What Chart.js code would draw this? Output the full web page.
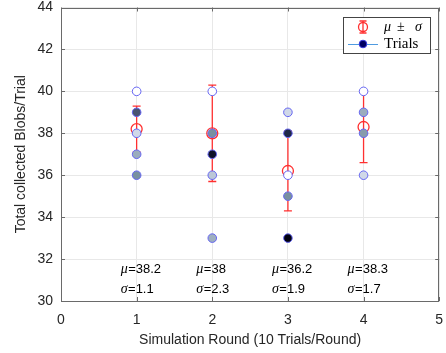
<!DOCTYPE html>
<html><head><meta charset="utf-8">
<script src="https://cdn.jsdelivr.net/npm/chart.js@4"></script>
<style>html,body{margin:0;padding:0;background:#fff;}#wrap{width:446px;height:353px;}</style>
</head><body><div id="wrap"><canvas id="c" width="446" height="353"></canvas></div>
<script>
// ---- data ----
const rounds = [1, 2, 3, 4];
const means = [38.2, 38, 36.2, 38.3];
const sds = [1.1, 2.3, 1.9, 1.7];
const round1Values = [40, 39, 38, 37, 36];
const round2Values = [40, 38, 37, 36, 33];
const round3Values = [39, 38, 36, 35, 33];
const round4Values = [40, 39, 38, 36];
// darkness of each drawn trial marker (0 = white, 1 = darkest)
const round1Shades = [0.0, 0.66, 0.15, 0.33, 0.45];
const round2Shades = [0.0, 0.45, 0.93, 0.22, 0.32];
const round3Shades = [0.15, 0.85, 0.0, 0.45, 1.0];
const round4Shades = [0.0, 0.33, 0.4, 0.15];
const xTicks = [0, 1, 2, 3, 4, 5];
const yTicks = [30, 32, 34, 36, 38, 40, 42, 44];

const roundValues = [round1Values, round2Values, round3Values, round4Values];
const roundShades = [round1Shades, round2Shades, round3Shades, round4Shades];

const stops = [[0, [255,255,255]], [0.15, [208,216,232]], [0.45, [120,144,160]], [0.7, [64,72,104]], [0.85, [32,40,72]], [1, [0,0,16]]];
function shadeColor(s) {
  for (let i = 1; i < stops.length; i++) {
    if (s <= stops[i][0]) {
      const [a, ca] = stops[i-1], [b, cb] = stops[i];
      const t = (s - a) / (b - a);
      const c = ca.map((v, k) => Math.round(v + (cb[k] - v) * t));
      return `rgb(${c[0]},${c[1]},${c[2]})`;
    }
  }
  return 'rgb(0,0,16)';
}

const trialPoints = [], trialColors = [];
rounds.forEach((r, i) => {
  roundValues[i].forEach((v, j) => {
    trialPoints.push({x: r, y: v});
    trialColors.push(shadeColor(roundShades[i][j]));
  });
});
const meanPoints = rounds.map((r, i) => ({x: r, y: means[i]}));

const RED = '#ff3030';
const TXT = '#262626';
const SANS = '"Liberation Sans", Arial, Helvetica, sans-serif';
const SERIF = '"Liberation Serif", "Times New Roman", serif';

const errorBarPlugin = {
  id: 'errorBars',
  beforeDatasetsDraw(chart) {
    const {ctx, scales: {x, y}} = chart;
    ctx.save();
    ctx.strokeStyle = RED; ctx.lineWidth = 1.3;
    rounds.forEach((r, i) => {
      const px = x.getPixelForValue(r);
      const t = y.getPixelForValue(means[i] + sds[i]);
      const b = y.getPixelForValue(means[i] - sds[i]);
      ctx.beginPath();
      ctx.moveTo(px, t); ctx.lineTo(px, b);
      ctx.moveTo(px - 4, t); ctx.lineTo(px + 4, t);
      ctx.moveTo(px - 4, b); ctx.lineTo(px + 4, b);
      ctx.stroke();
    });
    ctx.restore();
  }
};

const boxPlugin = {
  id: 'box',
  beforeDatasetsDraw(chart) {
    const {ctx, chartArea: a, scales: {x, y}} = chart;
    ctx.save();
    ctx.strokeStyle = '#6a6a6a'; ctx.lineWidth = 1;
    ctx.strokeRect(Math.round(a.left) + 0.5, Math.round(a.top) + 0.5, Math.round(a.right - a.left) - 1, Math.round(a.bottom - a.top) - 1);
    ctx.beginPath();
    xTicks.forEach(v => {
      const px = Math.round(x.getPixelForValue(v)) + 0.5;
      ctx.moveTo(px, a.bottom); ctx.lineTo(px, a.bottom - 4);
      ctx.moveTo(px, a.top); ctx.lineTo(px, a.top + 4);
    });
    yTicks.forEach(v => {
      const py = Math.round(y.getPixelForValue(v)) + 0.5;
      ctx.moveTo(a.left, py); ctx.lineTo(a.left + 4, py);
      ctx.moveTo(a.right, py); ctx.lineTo(a.right - 4, py);
    });
    ctx.stroke();
    ctx.restore();
  }
};

const annotPlugin = {
  id: 'annot',
  afterDatasetsDraw(chart) {
    const {ctx, chartArea: a, scales: {x}} = chart;
    ctx.save();
    ctx.fillStyle = '#000'; ctx.textBaseline = 'middle'; ctx.textAlign = 'left';
    rounds.forEach((r, i) => {
      const px = x.getPixelForValue(r) - 16;
      const rows = [['\u03bc', '=' + means[i], a.bottom - 31.5], ['\u03c3', '=' + sds[i], a.bottom - 11.5]];
      rows.forEach(([sym, txt, py]) => {
        ctx.font = 'italic 14px ' + SERIF;
        ctx.fillText(sym, px, py);
        const w = ctx.measureText(sym).width;
        ctx.font = '13px ' + SANS;
        ctx.fillText(txt, px + w + 0.5, py);
      });
    });
    ctx.restore();
  }
};

const legendPlugin = {
  id: 'customLegend',
  afterDraw(chart) {
    const {ctx} = chart;
    ctx.save();
    ctx.fillStyle = '#fff'; ctx.fillRect(343.5, 17.5, 87, 36);
    ctx.strokeStyle = '#444'; ctx.lineWidth = 1; ctx.strokeRect(343.5, 17.5, 87, 36);
    const cx = 363, y1 = 27;
    ctx.strokeStyle = RED; ctx.lineWidth = 1.3;
    ctx.beginPath();
    ctx.moveTo(cx, y1 - 6); ctx.lineTo(cx, y1 + 6);
    ctx.moveTo(cx - 3.5, y1 - 6); ctx.lineTo(cx + 3.5, y1 - 6);
    ctx.moveTo(cx - 3.5, y1 + 6); ctx.lineTo(cx + 3.5, y1 + 6);
    ctx.stroke();
    ctx.beginPath(); ctx.arc(cx, y1, 4.5, 0, Math.PI * 2); ctx.stroke();
    ctx.fillStyle = '#000'; ctx.textBaseline = 'middle'; ctx.textAlign = 'left';
    ctx.font = 'italic 14px ' + SERIF;
    ctx.fillText('\u03bc', 384, y1);
    ctx.font = '14px ' + SERIF;
    ctx.fillText('\u00b1', 397, y1);
    ctx.font = 'italic 14px ' + SERIF;
    ctx.fillText('\u03c3', 415, y1);
    const y2 = 44;
    ctx.strokeStyle = '#4f9be0'; ctx.lineWidth = 1;
    ctx.beginPath(); ctx.moveTo(348, y2 + 0.5); ctx.lineTo(378, y2 + 0.5); ctx.stroke();
    ctx.fillStyle = '#000060'; ctx.strokeStyle = '#3a3ae0';
    ctx.beginPath(); ctx.arc(cx, y2, 3.8, 0, Math.PI * 2); ctx.fill(); ctx.stroke();
    ctx.fillStyle = '#000'; ctx.font = '15px ' + SERIF;
    ctx.fillText('Trials', 384, y2);
    ctx.restore();
  }
};

function noPad(s) { s.paddingTop = 0; s.paddingBottom = 0; s.paddingLeft = 0; s.paddingRight = 0; }

new Chart(document.getElementById('c'), {
  type: 'scatter',
  data: {
    datasets: [
      {label: 'Trials', data: trialPoints, backgroundColor: trialColors, borderColor: '#6666f2', borderWidth: 1,
       pointRadius: 4.3, pointHoverRadius: 4.3, order: 1},
      {label: 'mean', data: meanPoints, backgroundColor: 'rgba(0,0,0,0)', borderColor: RED, borderWidth: 1.3,
       pointRadius: 5.5, pointHoverRadius: 5.5, order: 2}
    ]
  },
  options: {
    responsive: false, animation: false, devicePixelRatio: 1, events: [],
    layout: {padding: {top: 7.5, right: 6, left: 0, bottom: 0}},
    plugins: {legend: {display: false}, tooltip: {enabled: false}},
    scales: {
      x: {
        type: 'linear', min: 0, max: 5,
        afterBuildTicks: s => { s.ticks = xTicks.map(v => ({value: v})); },
        afterFit: s => { s.height = 52; noPad(s); },
        grid: {color: '#e8e8e8', drawTicks: false},
        border: {display: false},
        ticks: {font: {family: SANS, size: 14}, color: TXT, padding: 10.5},
        title: {display: true, text: 'Simulation Round (10 Trials/Round)', font: {family: SANS, size: 14}, color: TXT, padding: {top: 0, bottom: 4}}
      },
      y: {
        type: 'linear', min: 30, max: 44,
        afterBuildTicks: s => { s.ticks = yTicks.map(v => ({value: v})); },
        afterFit: s => { s.width = 61; noPad(s); },
        grid: {color: '#e8e8e8', drawTicks: false},
        border: {display: false},
        ticks: {font: {family: SANS, size: 14}, color: TXT, padding: 8},
        title: {display: true, text: 'Total collected Blobs/Trial', font: {family: SANS, size: 14}, color: TXT, padding: {top: 13, bottom: 0}}
      }
    }
  },
  plugins: [errorBarPlugin, boxPlugin, annotPlugin, legendPlugin]
});
</script>
</body></html>
